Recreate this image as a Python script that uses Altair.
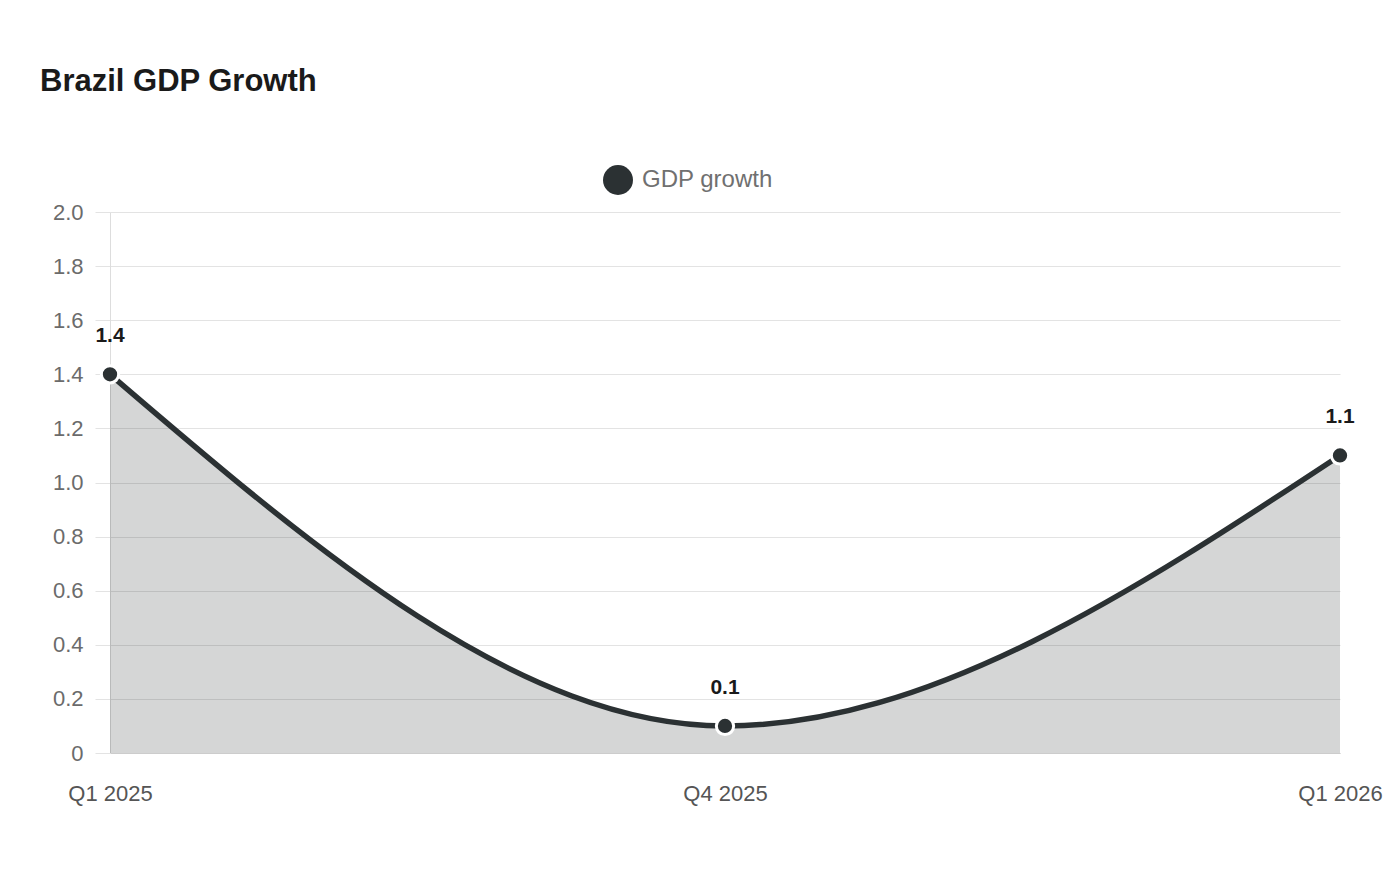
import altair as alt
import pandas as pd

quarters = ["Q1 2025", "Q4 2025", "Q1 2026"]
growth = [1.4, 0.1, 1.1]
series = ["GDP growth", "GDP growth", "GDP growth"]
y_ticks = [0, 0.2, 0.4, 0.6, 0.8, 1.0, 1.2, 1.4, 1.6, 1.8, 2.0]

df = pd.DataFrame({"quarter": quarters, "growth": growth, "series": series})

DARK = "#2b3133"
FONT = "Liberation Sans"

x_enc = alt.X(
    "quarter:N",
    sort=quarters,
    scale=alt.Scale(type="point", padding=0),
    axis=alt.Axis(
        title=None, labelAngle=0, ticks=False, domain=True, domainColor="#cccccc",
        labelPadding=30, labelFontSize=22, labelColor="#555555", labelFont=FONT,
        grid=False,
    ),
)
y_enc = alt.Y(
    "growth:Q",
    scale=alt.Scale(domain=[0, 2]),
    axis=alt.Axis(
        title=None, values=y_ticks, domain=True, domainColor="#dddddd",
        tickSize=15, tickColor="#e3e3e3", labelPadding=12, labelFontSize=22,
        labelColor="#6b6b6b", labelFont=FONT, gridColor="#e3e3e3",
        labelExpr="datum.value == 0 ? '0' : format(datum.value, '.1f')",
    ),
)

base = alt.Chart(df).encode(x=x_enc, y=y_enc)

area = base.mark_area(interpolate="monotone", color=DARK, opacity=0.2)
line = base.mark_line(interpolate="monotone", color=DARK, strokeWidth=5.5)
points = base.mark_point(filled=True, size=300, stroke="white", strokeWidth=3, opacity=1).encode(
    color=alt.Color(
        "series:N",
        scale=alt.Scale(range=[DARK]),
        legend=alt.Legend(
            title=None, orient="none", legendX=493, legendY=-47, symbolType="circle",
            symbolSize=900, symbolStrokeWidth=0, labelFontSize=24, labelColor="#707070",
            labelFont=FONT, labelOffset=9,
        ),
    )
)
labels = base.mark_text(dy=-38, fontSize=21, fontWeight="bold", color="#1a1a1a", font=FONT).encode(
    text=alt.Text("growth:Q", format=".1f")
)

chart = (
    alt.layer(area, line, points, labels)
    .properties(
        width=1230,
        height=541,
        autosize=alt.AutoSizeParams(type="none"),
        padding={"left": 110, "top": 212, "right": 60, "bottom": 127},
        title=alt.TitleParams(
            "Brazil GDP Growth", anchor="start", frame="group", dx=-70, offset=67,
            fontSize=31, font=FONT, fontWeight="bold", color="#1a1a1a",
        ),
    )
    .configure_view(stroke=None)
)

chart.save("out.html", embed_options={"renderer": "svg", "actions": False})
